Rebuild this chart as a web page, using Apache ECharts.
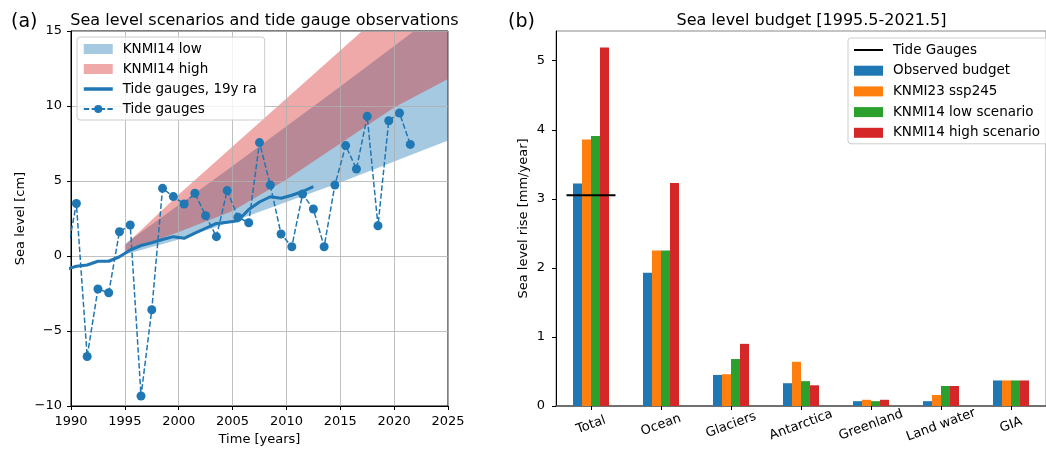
<!DOCTYPE html>
<html><head><meta charset="utf-8">
<script src="https://cdn.jsdelivr.net/npm/echarts@6/dist/echarts.min.js"></script>
<style>html,body{margin:0;padding:0;background:#fff}#c{width:1046px;height:451px}</style>
</head><body><div id="c"></div>
<script>
// ---------- Panel (a) data ----------
const gaugeYears = [1989.5,1990.5,1991.5,1992.5,1993.5,1994.5,1995.5,1996.5,1997.5,1998.5,1999.5,2000.5,2001.5,2002.5,2003.5,2004.5,2005.5,2006.5,2007.5,2008.5,2009.5,2010.5,2011.5,2012.5,2013.5,2014.5,2015.5,2016.5,2017.5,2018.5,2019.5,2020.5,2021.5];
const gaugeVals  = [-0.4,3.5,-6.7,-2.2,-2.45,1.62,2.07,-9.33,-3.58,4.51,3.96,3.47,4.18,2.69,1.29,4.36,2.58,2.22,7.56,4.73,1.47,0.62,4.13,3.13,0.62,4.73,7.36,5.8,9.31,2.02,9.02,9.53,7.44];
const meanYears  = [1989.5,1990.5,1991.5,1992.5,1993.5,1994.5,1995.5,1996.5,1997.5,1998.5,1999.5,2000.5,2001.5,2002.5,2003.5,2004.5,2005.5,2006.5,2007.5,2008.5,2009.5,2010.5,2011.5,2012.5];
const meanVals   = [-0.9,-0.68,-0.6,-0.35,-0.35,-0.05,0.4,0.7,0.88,1.1,1.29,1.18,1.52,1.85,2.17,2.25,2.35,3.1,3.6,3.95,3.85,4.05,4.3,4.62];
const bandYears  = [1995,2000,2005,2010,2015,2020,2025];
const lowLower   = [0.1,1.1,2.3,3.6,4.9,6.3,7.7];
const lowUpper   = [0.8,3.4,6.0,8.65,11.3,14.0,16.7];
const highLower  = [0.3,1.6,3.0,5.1,7.5,9.9,11.8];
const highUpper  = [0.7,4.1,7.3,10.5,13.7,16.9,20.1];

// ---------- Panel (b) data ----------
const categories  = ['Total','Ocean','Glaciers','Antarctica','Greenland','Land water','GIA'];
const observed    = [3.22,1.93,0.45,0.33,0.07,0.07,0.37];
const knmi23      = [3.86,2.25,0.46,0.64,0.09,0.16,0.37];
const knmi14Low   = [3.91,2.25,0.68,0.36,0.07,0.29,0.37];
const knmi14High  = [5.19,3.23,0.90,0.30,0.09,0.29,0.37];
const tideGaugeRate = 3.05;

const FONT = 'DejaVu Sans';
const C0='#1f77b4', C1='#ff7f0e', C2='#2ca02c', C3='#d62728';
const blueFill = 'rgba(31,119,180,0.4)';
const redFill  = 'rgba(214,39,40,0.4)';
const TIDE_HALF = 0.35;

const pairs = (xs, ys) => xs.map((x,i)=>[x, ys[i]]);
const minus = v => String(v).replace('-', '\u2212');

function bandRender(lo, hi, fill){
  return function(params, api){
    if (params.dataIndex !== 0) return null;
    const pts = [];
    for (let i=0;i<bandYears.length;i++) pts.push(api.coord([bandYears[i], lo[i]]));
    for (let i=bandYears.length-1;i>=0;i--) pts.push(api.coord([bandYears[i], hi[i]]));
    return {type:'polygon', shape:{points:pts}, style:{fill:fill}};
  };
}

const chart = echarts.init(document.getElementById('c'), null, {renderer:'canvas'});
const axisTxt = {fontFamily:FONT, fontSize:13, color:'#000'};
const legTxt = {fontFamily:FONT, fontSize:13.5, color:'#000', lineHeight:14, padding:[0,0,0,5]};

chart.setOption({
  animation:false,
  backgroundColor:'#fff',
  title:[
    {text:'Sea level scenarios and tide gauge observations', left:259.5, top:8, textAlign:'center',
     textStyle:{fontFamily:FONT, fontSize:16, fontWeight:'normal', color:'#000'}},
    {text:'Sea level budget [1995.5-2021.5]', left:806.5, top:8, textAlign:'center',
     textStyle:{fontFamily:FONT, fontSize:16, fontWeight:'normal', color:'#000'}}
  ],
  graphic:[
    {type:'text', left:11, top:13, style:{text:'(a)', font:'19px "DejaVu Sans"', fill:'#000'}},
    {type:'text', left:508, top:13, style:{text:'(b)', font:'19px "DejaVu Sans"', fill:'#000'}}
  ],
  grid:[
    {left:71, top:31, width:377, height:375, show:true, borderColor:'#000', borderWidth:1},
    {left:556, top:31, right:-11, bottom:45, show:true, borderColor:'#888', borderWidth:1}
  ],
  legend:[
    {orient:'vertical', left:77, top:37, padding:[5,8,4,5], itemWidth:29, itemHeight:10, itemGap:6,
     backgroundColor:'rgba(255,255,255,0.8)', borderColor:'#cccccc', borderWidth:1, borderRadius:3,
     textStyle:legTxt, z:10,
     data:[{name:'KNMI14 low', icon:'rect', itemStyle:{color:blueFill}},
           {name:'KNMI14 high', icon:'rect', itemStyle:{color:redFill}},
           {name:'Tide gauges, 19y ra', itemStyle:{opacity:0}, lineStyle:{width:3.5}},
           {name:'Tide gauges'}]},
    {orient:'vertical', left:848, top:38, padding:[5,8,4,5], itemWidth:29, itemHeight:10, itemGap:6.7,
     backgroundColor:'rgba(255,255,255,0.8)', borderColor:'#cccccc', borderWidth:1, borderRadius:3,
     textStyle:legTxt, z:10,
     data:[{name:'Tide Gauges', itemStyle:{opacity:0}, lineStyle:{width:2}},
           {name:'Observed budget', icon:'rect'},
           {name:'KNMI23 ssp245', icon:'rect'},
           {name:'KNMI14 low scenario', icon:'rect'},
           {name:'KNMI14 high scenario', icon:'rect'}]}
  ],
  xAxis:[
    {type:'value', gridIndex:0, min:1990, max:2025, interval:5, z:1,
     name:'Time [years]', nameLocation:'middle', nameGap:25, nameTextStyle:axisTxt,
     axisLine:{show:true, onZero:false, lineStyle:{color:'#000', width:1}},
     axisTick:{show:true, length:4, lineStyle:{color:'#000'}},
     axisLabel:{...axisTxt, margin:9, formatter:v=>String(v)},
     splitLine:{show:true, lineStyle:{color:'#b0b0b0', width:0.8}}},
    {type:'category', gridIndex:1, data:categories, boundaryGap:true,
     axisLine:{show:true, onZero:false, lineStyle:{color:'#555', width:1.5}},
     axisTick:{show:true, alignWithLabel:true, length:4, lineStyle:{color:'#000'}},
     axisLabel:{...axisTxt, rotate:20, align:'center', verticalAlign:'middle', margin:19},
     splitLine:{show:false}},
    {type:'value', gridIndex:1, min:-0.5, max:6.5, show:false, position:'top'}
  ],
  yAxis:[
    {type:'value', gridIndex:0, min:-10, max:15, interval:5, z:1,
     name:'Sea level [cm]', nameLocation:'middle', nameGap:44, nameTextStyle:axisTxt,
     axisLine:{show:true, onZero:false, lineStyle:{color:'#000', width:1}},
     axisTick:{show:true, length:4, lineStyle:{color:'#000'}},
     axisLabel:{...axisTxt, margin:9, formatter:minus},
     splitLine:{show:true, lineStyle:{color:'#b0b0b0', width:0.8}}},
    {type:'value', gridIndex:1, min:0, max:5.43, interval:1,
     name:'Sea level rise [mm/year]', nameLocation:'middle', nameGap:26, nameTextStyle:axisTxt,
     axisLine:{show:true, onZero:false, lineStyle:{color:'#000', width:1}},
     axisTick:{show:true, length:4, lineStyle:{color:'#000'}},
     axisLabel:{...axisTxt, margin:11, showMaxLabel:false, formatter:v=>Number.isInteger(v)?String(v):''},
     splitLine:{show:false}}
  ],
  series:[
    {type:'custom', name:'KNMI14 low', xAxisIndex:0, yAxisIndex:0, data:pairs(bandYears, lowLower),
     encode:{x:0, y:1}, renderItem:bandRender(lowLower, lowUpper, blueFill), clip:true,
     color:blueFill, itemStyle:{color:blueFill}, silent:true, z:0},
    {type:'custom', name:'KNMI14 high', xAxisIndex:0, yAxisIndex:0, data:pairs(bandYears, highLower),
     encode:{x:0, y:1}, renderItem:bandRender(highLower, highUpper, redFill), clip:true,
     color:redFill, itemStyle:{color:redFill}, silent:true, z:0},
    {type:'line', name:'Tide gauges, 19y ra', xAxisIndex:0, yAxisIndex:0, data:pairs(meanYears, meanVals),
     symbol:'none', color:C0, lineStyle:{width:3, color:C0}, z:3},
    {type:'line', name:'Tide gauges', xAxisIndex:0, yAxisIndex:0, data:pairs(gaugeYears, gaugeVals),
     symbol:'circle', symbolSize:9, color:C0, itemStyle:{color:C0},
     lineStyle:{width:1.5, color:C0, type:[5.5,2.4]}, z:4},

    {type:'bar', name:'Observed budget', xAxisIndex:1, yAxisIndex:1, data:observed, barWidth:9, barGap:'0%', color:C0, itemStyle:{color:C0}},
    {type:'bar', name:'KNMI23 ssp245', xAxisIndex:1, yAxisIndex:1, data:knmi23, barWidth:9, barGap:'0%', color:C1, itemStyle:{color:C1}},
    {type:'bar', name:'KNMI14 low scenario', xAxisIndex:1, yAxisIndex:1, data:knmi14Low, barWidth:9, barGap:'0%', color:C2, itemStyle:{color:C2}},
    {type:'bar', name:'KNMI14 high scenario', xAxisIndex:1, yAxisIndex:1, data:knmi14High, barWidth:9, barGap:'0%', color:C3, itemStyle:{color:C3}},
    {type:'line', name:'Tide Gauges', xAxisIndex:2, yAxisIndex:1,
     data:[[-TIDE_HALF, tideGaugeRate],[TIDE_HALF, tideGaugeRate]],
     symbol:'none', color:'#000', lineStyle:{width:2, color:'#000'}, z:5}
  ]
});
</script></body></html>
